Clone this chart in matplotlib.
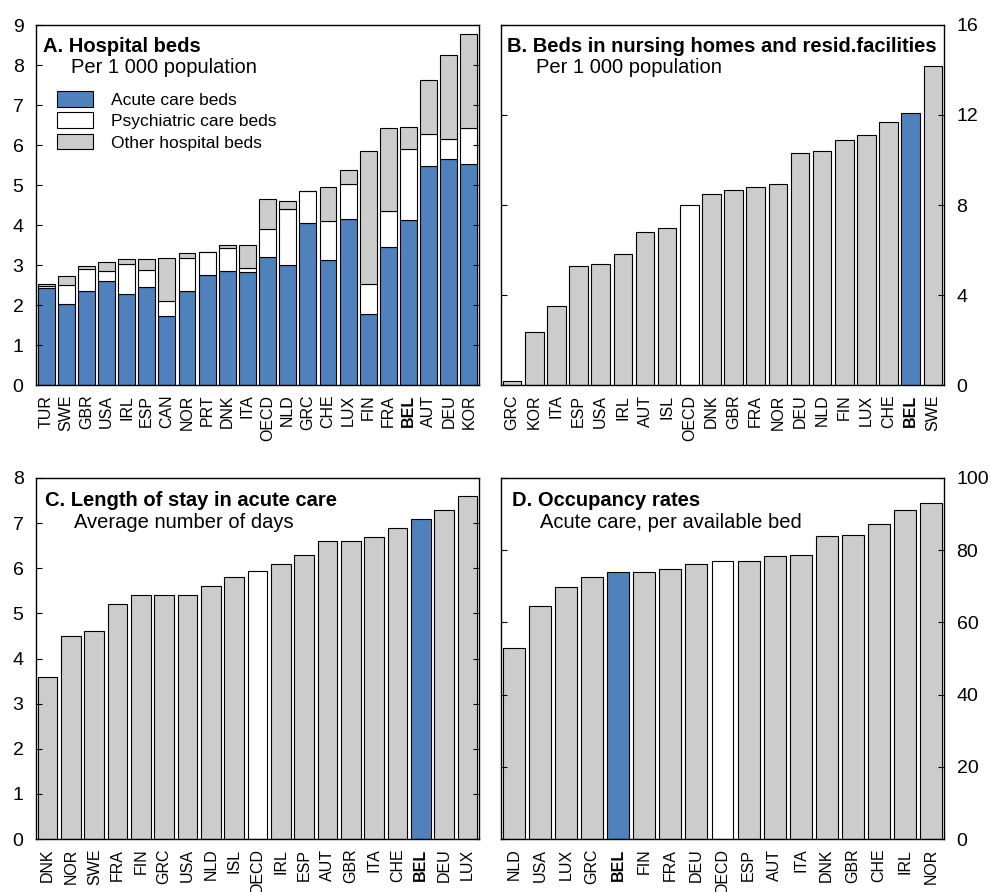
import numpy as np
import matplotlib
matplotlib.use('Agg')
import matplotlib.pyplot as plt
from matplotlib.patches import Patch

plt.rcParams['font.family'] = 'Liberation Sans'

BLUE = '#4f81bd'
GREY = '#cccccc'

# Panel A: hospital beds per 1 000 population (stacked)
a_countries = ['TUR', 'SWE', 'GBR', 'USA', 'IRL', 'ESP', 'CAN', 'NOR', 'PRT', 'DNK', 'ITA',
               'OECD', 'NLD', 'GRC', 'CHE', 'LUX', 'FIN', 'FRA', 'BEL', 'AUT', 'DEU', 'KOR']
a_acute = [2.42, 2.02, 2.36, 2.59, 2.28, 2.46, 1.72, 2.36, 2.76, 2.86, 2.82,
           3.19, 3.00, 4.04, 3.12, 4.16, 1.77, 3.46, 4.12, 5.48, 5.66, 5.52]
a_psych = [0.06, 0.48, 0.55, 0.26, 0.74, 0.41, 0.39, 0.82, 0.57, 0.57, 0.11,
           0.70, 1.40, 0.82, 0.97, 0.86, 0.75, 0.88, 1.77, 0.79, 0.50, 0.91]
a_other = [0.04, 0.23, 0.06, 0.23, 0.12, 0.29, 1.07, 0.11, 0.0, 0.06, 0.58,
           0.75, 0.21, 0.0, 0.87, 0.35, 3.33, 2.08, 0.55, 1.36, 2.09, 2.34]

# Panel B: beds in nursing homes and residential facilities
b_countries = ['GRC', 'KOR', 'ITA', 'ESP', 'USA', 'IRL', 'AUT', 'ISL', 'OECD', 'DNK',
               'GBR', 'FRA', 'NOR', 'DEU', 'NLD', 'FIN', 'LUX', 'CHE', 'BEL', 'SWE']
b_values = [0.18, 2.37, 3.5, 5.29, 5.39, 5.81, 6.79, 6.99, 8.0, 8.5,
            8.68, 8.79, 8.92, 10.3, 10.4, 10.89, 11.11, 11.7, 12.1, 14.19]

# Panel C: length of stay in acute care
c_countries = ['DNK', 'NOR', 'SWE', 'FRA', 'FIN', 'GRC', 'USA', 'NLD', 'ISL', 'OECD',
               'IRL', 'ESP', 'AUT', 'GBR', 'ITA', 'CHE', 'BEL', 'DEU', 'LUX']
c_values = [3.6, 4.5, 4.6, 5.2, 5.4, 5.4, 5.4, 5.6, 5.8, 5.93,
            6.1, 6.3, 6.6, 6.6, 6.7, 6.9, 7.1, 7.3, 7.6]

# Panel D: occupancy rates
d_countries = ['NLD', 'USA', 'LUX', 'GRC', 'BEL', 'FIN', 'FRA', 'DEU', 'OECD', 'ESP',
               'AUT', 'ITA', 'DNK', 'GBR', 'CHE', 'IRL', 'NOR']
d_values = [52.8, 64.5, 69.7, 72.6, 73.9, 73.9, 74.9, 76.1, 77.0, 77.0,
            78.3, 78.7, 83.8, 84.1, 87.3, 91.2, 93.1]

W, H = 991, 892
fig = plt.figure(figsize=(W / 100, H / 100), dpi=100)


def make_axes(x0, x1, y0, y1):
    return fig.add_axes([x0 / W, 1 - y1 / H, (x1 - x0) / W, (y1 - y0) / H])


def style(ax, countries, right):
    ax.set_xlim(-0.5, len(countries) - 0.5)
    ax.set_xticks(range(len(countries)))
    ax.set_xticklabels(countries, rotation=90, fontsize=11.5)
    for lab in ax.get_xticklabels():
        if lab.get_text() == 'BEL':
            lab.set_fontweight('bold')
    ax.tick_params(axis='x', length=0, pad=7)
    ax.tick_params(axis='y', direction='in', left=True, right=True, length=4,
                   labelsize=14, pad=9, labelleft=not right, labelright=right)
    for s in ax.spines.values():
        s.set_linewidth(1.0)


def titles(ax, title, sub, tx, ty, sx, sy):
    bb = ax.get_position()
    wpx = bb.width * W
    hpx = bb.height * H
    ax.text(tx / wpx, 1 - ty / hpx, title, transform=ax.transAxes, fontsize=14.5,
            fontweight='bold', va='baseline', ha='left')
    ax.text(sx / wpx, 1 - sy / hpx, sub, transform=ax.transAxes, fontsize=14.5,
            va='baseline', ha='left')


def colours(countries):
    out = []
    for c in countries:
        if c == 'BEL':
            out.append(BLUE)
        elif c == 'OECD':
            out.append('white')
        else:
            out.append(GREY)
    return out


bw = 0.84
ekw = dict(edgecolor='black', linewidth=0.8)

# A
axA = make_axes(36, 479, 25, 385)
x = np.arange(len(a_countries))
acute = np.array(a_acute)
psych = np.array(a_psych)
other = np.array(a_other)
axA.bar(x, acute, bw, color=BLUE, **ekw)
axA.bar(x, psych, bw, bottom=acute, color='white', **ekw)
axA.bar(x, other, bw, bottom=acute + psych, color=GREY, **ekw)
axA.set_ylim(0, 9)
axA.set_yticks(range(0, 10))
style(axA, a_countries, right=False)
titles(axA, 'A. Hospital beds', 'Per 1 000 population', 7, 27, 35, 48)
handles = [Patch(facecolor=BLUE, **ekw), Patch(facecolor='white', **ekw),
           Patch(facecolor=GREY, **ekw)]
axA.legend(handles, ['Acute care beds', 'Psychiatric care beds', 'Other hospital beds'],
           loc='upper left', bbox_to_anchor=(21 / 443, 1 - 66 / 360), frameon=False,
           fontsize=12.5, handlelength=2.07, handleheight=1.0, labelspacing=0.27,
           handletextpad=1.03, borderpad=0, borderaxespad=0)

# B
axB = make_axes(501, 944, 25, 385)
axB.bar(np.arange(len(b_countries)), b_values, bw, color=colours(b_countries), **ekw)
axB.set_ylim(0, 16)
axB.set_yticks([0, 4, 8, 12, 16])
style(axB, b_countries, right=True)
titles(axB, 'B. Beds in nursing homes and resid.facilities', 'Per 1 000 population',
       6, 27, 35, 48)

# C
axC = make_axes(36, 479, 478, 839)
axC.bar(np.arange(len(c_countries)), c_values, bw, color=colours(c_countries), **ekw)
axC.set_ylim(0, 8)
axC.set_yticks(range(0, 9))
style(axC, c_countries, right=False)
titles(axC, 'C. Length of stay in acute care', 'Average number of days', 9, 28, 38, 50)

# D
axD = make_axes(501, 944, 478, 839)
axD.bar(np.arange(len(d_countries)), d_values, bw, color=colours(d_countries), **ekw)
axD.set_ylim(0, 100)
axD.set_yticks(range(0, 101, 20))
style(axD, d_countries, right=True)
titles(axD, 'D. Occupancy rates', 'Acute care, per available bed', 11, 28, 39, 50)

fig.savefig('out.png', dpi=100)
